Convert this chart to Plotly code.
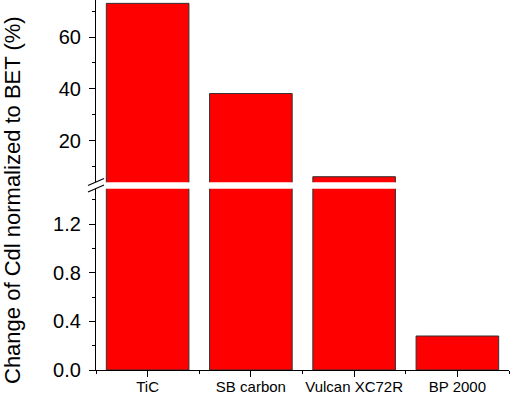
import plotly.graph_objects as go

categories = ["TiC", "SB carbon", "Vulcan XC72R", "BP 2000"]
values = [73.0, 38.2, 6.1, 0.28]

lower_ticks = [0.0, 0.4, 0.8, 1.2]
upper_ticks = [20, 40, 60]

W, H = 510, 394
ML, MR, MT, MB = 96, 1, 0, 24
PW = W - ML - MR
PH = H - MT - MB

xpos = list(range(len(categories)))

bar_style = dict(marker=dict(color="#ff0000", line=dict(color="#333333", width=1)),
                 width=0.8, showlegend=False, hoverinfo="skip")

fig = go.Figure()
fig.add_trace(go.Bar(x=xpos, y=values, xaxis="x", yaxis="y", **bar_style))
fig.add_trace(go.Bar(x=xpos, y=values, xaxis="x2", yaxis="y2", **bar_style))

font = "Arial, Liberation Sans, sans-serif"

def px_x(px):
    return (px - ML) / PW

def px_y(py):
    return (H - MB - py) / PH

y_low_top = px_y(188.7)
y_up_bot = px_y(182.3)

fig.update_layout(
    width=W, height=H,
    margin=dict(l=ML, r=MR, t=MT, b=MB, autoexpand=False),
    plot_bgcolor="white", paper_bgcolor="white",
    bargap=0.2,
    xaxis=dict(domain=[0, 1], range=[-0.5, 3.5], anchor="y", automargin=False,
               tickmode="array", tickvals=xpos, ticktext=categories,
               ticks="outside", ticklen=6, tickwidth=1, tickcolor="black",
               minor=dict(tickmode="array", tickvals=[-0.5, 0.5, 1.5, 2.5, 3.5],
                          ticks="outside", ticklen=3, tickcolor="black", tickwidth=1),
               showline=True, linecolor="black", linewidth=1.2,
               showgrid=False, zeroline=False, ticklabelstandoff=-3,
               tickfont=dict(family=font, size=15, color="black")),
    xaxis2=dict(domain=[0, 1], range=[-0.5, 3.5], anchor="y2", automargin=False,
                showticklabels=False, showline=False, ticks="",
                showgrid=False, zeroline=False),
    yaxis=dict(domain=[0, y_low_top], range=[0, 1.493], anchor="x", automargin=False,
               tickmode="array", tickvals=lower_ticks, tickformat=".1f",
               ticks="outside", ticklen=6, tickwidth=1, tickcolor="black",
               minor=dict(dtick=0.2, tick0=0, ticks="outside", ticklen=3,
                          tickcolor="black", tickwidth=1),
               showline=True, linecolor="black", linewidth=1.2,
               showgrid=False, zeroline=False, ticklabelstandoff=4,
               tickfont=dict(family=font, size=20, color="black")),
    yaxis2=dict(domain=[y_up_bot, 1], range=[3.94, 74.3], anchor="x2", automargin=False,
                tickmode="array", tickvals=upper_ticks,
                ticks="outside", ticklen=6, tickwidth=1, tickcolor="black",
                minor=dict(dtick=10, tick0=0, ticks="outside", ticklen=3,
                           tickcolor="black", tickwidth=1),
                showline=True, linecolor="black", linewidth=1.2,
                showgrid=False, zeroline=False, ticklabelstandoff=4,
                tickfont=dict(family=font, size=20, color="black")),
)

# break marks on the y axis
for (x0, y0, x1, y1) in [(88, 185.5, 104, 178.5), (88, 192.0, 104, 185.0)]:
    fig.add_shape(type="line", xref="paper", yref="paper",
                  x0=px_x(x0), y0=px_y(y0), x1=px_x(x1), y1=px_y(y1),
                  line=dict(color="black", width=1.2))

fig.add_annotation(text="Change of Cdl normalized to BET (%)",
                   xref="paper", yref="paper", x=px_x(12), y=px_y(200),
                   xanchor="center", yanchor="middle", textangle=-90,
                   showarrow=False,
                   font=dict(family=font, size=22, color="black"))

fig.write_html("out.html", config={"displayModeBar": False},
               post_script="document.body.style.margin='0';document.body.style.overflow='hidden';")
